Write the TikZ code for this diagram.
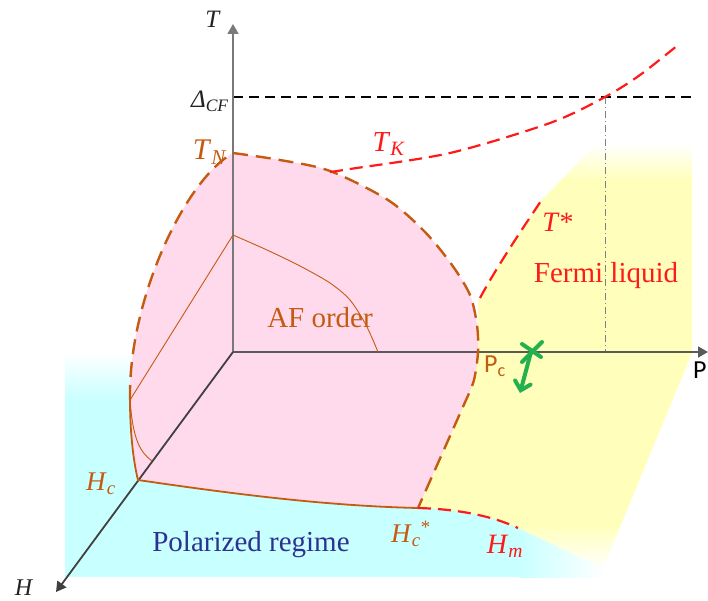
\documentclass[tikz,border=0pt]{standalone}
\usepackage{fontspec}
\setmainfont{Liberation Serif}
\newfontfamily\calfont{Carlito}
\usetikzlibrary{arrows.meta}
\definecolor{brn}{HTML}{C55A11}
\definecolor{redc}{HTML}{FF1A1A}
\definecolor{pinkc}{HTML}{FFDAEC}
\definecolor{yel}{HTML}{FFFFBB}
\definecolor{cyanc}{HTML}{C8FFFF}
\definecolor{navy}{HTML}{2E3192}
\definecolor{grn}{HTML}{22B14C}
\definecolor{txt}{HTML}{222222}
\tikzset{
  lbl/.style={inner sep=0pt, font=\fontsize{#1}{#1}\selectfont},
  axisline/.style={line width=1.8pt, -{Triangle[length=10pt,width=11pt]}},
  brndash/.style={brn, line width=2.4pt, dash pattern=on 15pt off 8pt},
  reddash/.style={redc, line width=2.2pt, dash pattern=on 13pt off 7pt},
  thinbrn/.style={brn, line width=0.9pt},
}
\begin{document}
\begin{tikzpicture}[x=1pt,y=-1pt]
\useasboundingbox (0,0) rectangle (708,601);
% ---- coordinates
\coordinate (O) at (233,352);
\coordinate (Ttip) at (233,24);
\coordinate (Ptip) at (708,352);
\coordinate (Htip) at (56,592);
\coordinate (TN) at (233,153);
\coordinate (Tin) at (233,235);
\coordinate (Pin) at (378,352);
\coordinate (Hc) at (138,480);
\coordinate (Hcs) at (418,508);
\coordinate (Hm) at (518,528);
\coordinate (Lb) at (130,400);
\coordinate (Hin) at (152,461);
\coordinate (Dl) at (233,97);
\coordinate (Dr) at (697,97);
\coordinate (Dx) at (605,97);
\coordinate (Dp) at (605,352);
\coordinate (Ts0) at (480,298);
\coordinate (Ts1) at (541,201);
\coordinate (Gx) at (531,352);
\coordinate (Ga) at (520,393);
% ---- cyan region
\fill[cyanc] (65,400) rectangle (520,577);
\shade[top color=white, bottom color=cyanc] (65,352) rectangle (520,400.5);
\shade[left color=cyanc, right color=white] (519.5,400) rectangle (605,577);
% ---- yellow region
\begin{scope}
\clip (418,508) -- (466,400) -- (478,352) -- (478,300) -- (Ts0) .. controls (495,270) and (520,232) .. (Ts1) -- (593,147) -- (692,147) -- (692,353) -- (603,568) -- (Hm) .. controls (490,515) and (455,509) .. (Hcs) -- cycle;
\fill[yel] (400,180) rectangle (700,525);
\shade[top color=white, bottom color=yel] (400,143) rectangle (700,180.5);
\shade[top color=yel, bottom color=white] (400,524.5) rectangle (700,570);
\end{scope}
% ---- pink region
\fill[pinkc] plot[smooth] coordinates {(233,153) (280,160) (330,171) (388,200) (425,232) (452,265) (470,295) (477,325) (478,352) (474,380) (466,400)} -- (Hcs) .. controls (330,506) and (240,495) .. (Hc) .. controls (133,460) and (130,430) .. (Lb) .. controls (128,300) and (185,180) .. (TN) -- cycle;
% ---- reference lines
\draw[black, line width=2.6pt, dash pattern=on 10pt off 6pt] (Dl) -- (Dr);
\draw[gray, line width=0.9pt, dash pattern=on 7pt off 3pt on 1pt off 3pt] (Dx) -- (Dp);
% ---- axes
\draw[axisline, color=gray!95!black] (O) -- (Ttip);
\draw[axisline, color=black!65] (O) -- (Ptip);
\draw[axisline, color=black!75] (O) -- (Htip);
% ---- AF boundaries
\draw[brndash] plot[smooth] coordinates {(233,153) (280,160) (330,171) (388,200) (425,232) (452,265) (470,295) (477,325) (478,352) (474,380) (466,400)} -- (Hcs);
\draw[brndash] (Lb) .. controls (128,300) and (185,180) .. (TN);
\draw[brn, line width=1.8pt] (Hcs) .. controls (330,506) and (240,495) .. (Hc) .. controls (133,460) and (130,430) .. (Lb);
\draw[thinbrn] plot[smooth] coordinates {(233,235) (267,250) (300,266) (330,283) (350,300) (366,325) (378,352)};
\draw[thinbrn] (Tin) -- (Lb);
\draw[thinbrn] (Lb) .. controls (133,440) and (140,452) .. (Hin);
% ---- red crossover lines
\draw[reddash] plot[smooth] coordinates {(330,172) (350,169) (450,153) (550,123) (605,97) (640,75) (678,45)};
\draw[reddash] (Ts0) .. controls (495,270) and (520,232) .. (Ts1);
\draw[reddash] (Hcs) .. controls (455,509) and (490,515) .. (Hm);
% ---- green mark
\draw[grn, line width=4pt, line cap=round] (522,344) -- (541,357);
\draw[grn, line width=4pt, line cap=round] (542,342) -- (522,362);
\draw[grn, line width=4pt, -{Straight Barb[length=8pt,width=16pt,line cap=round]}] (Gx) -- (Ga);
% ---- labels
\node[lbl=25, txt] (lT) at (213,19) {\textit{T}};
\node[lbl=25, txt, anchor=east] (lD) at (229,101) {\textit{Δ}\textsubscript{\textit{CF}}};
\node[lbl=30, brn, anchor=east] (lTN) at (227,152) {\textit{T}\textsubscript{\textit{N}}};
\node[lbl=29, redc] (lTK) at (389,144) {\textit{T}\textsubscript{\textit{K}}};
\node[lbl=28, redc] (lTs) at (558,222) {\textit{T}*};
\node[lbl=29, redc] (lFL) at (606,276) {Fermi liquid};
\node[lbl=29, brn] (lAF) at (320,318) {AF order};
\node[lbl=26, brn] (lPc) at (495,366) {\calfont P\textsubscript{c}};
\node[lbl=26, black, anchor=west] (lP) at (693,370) {\calfont P};
\node[lbl=27, brn] (lHc) at (101,484) {\textit{H}\textsubscript{\textit{c}}};
\node[lbl=27, brn] (lHcs) at (411,534) {\textit{H}\textsubscript{\textit{c}}\textsuperscript{*}};
\node[lbl=28, redc] (lHm) at (505,546) {\textit{H}\textsubscript{\textit{m}}};
\node[lbl=29, navy] (lPR) at (251,545) {Polarized regime};
\node[lbl=24, txt] (lH) at (24,588) {\textit{H}};
\end{tikzpicture}
\end{document}
